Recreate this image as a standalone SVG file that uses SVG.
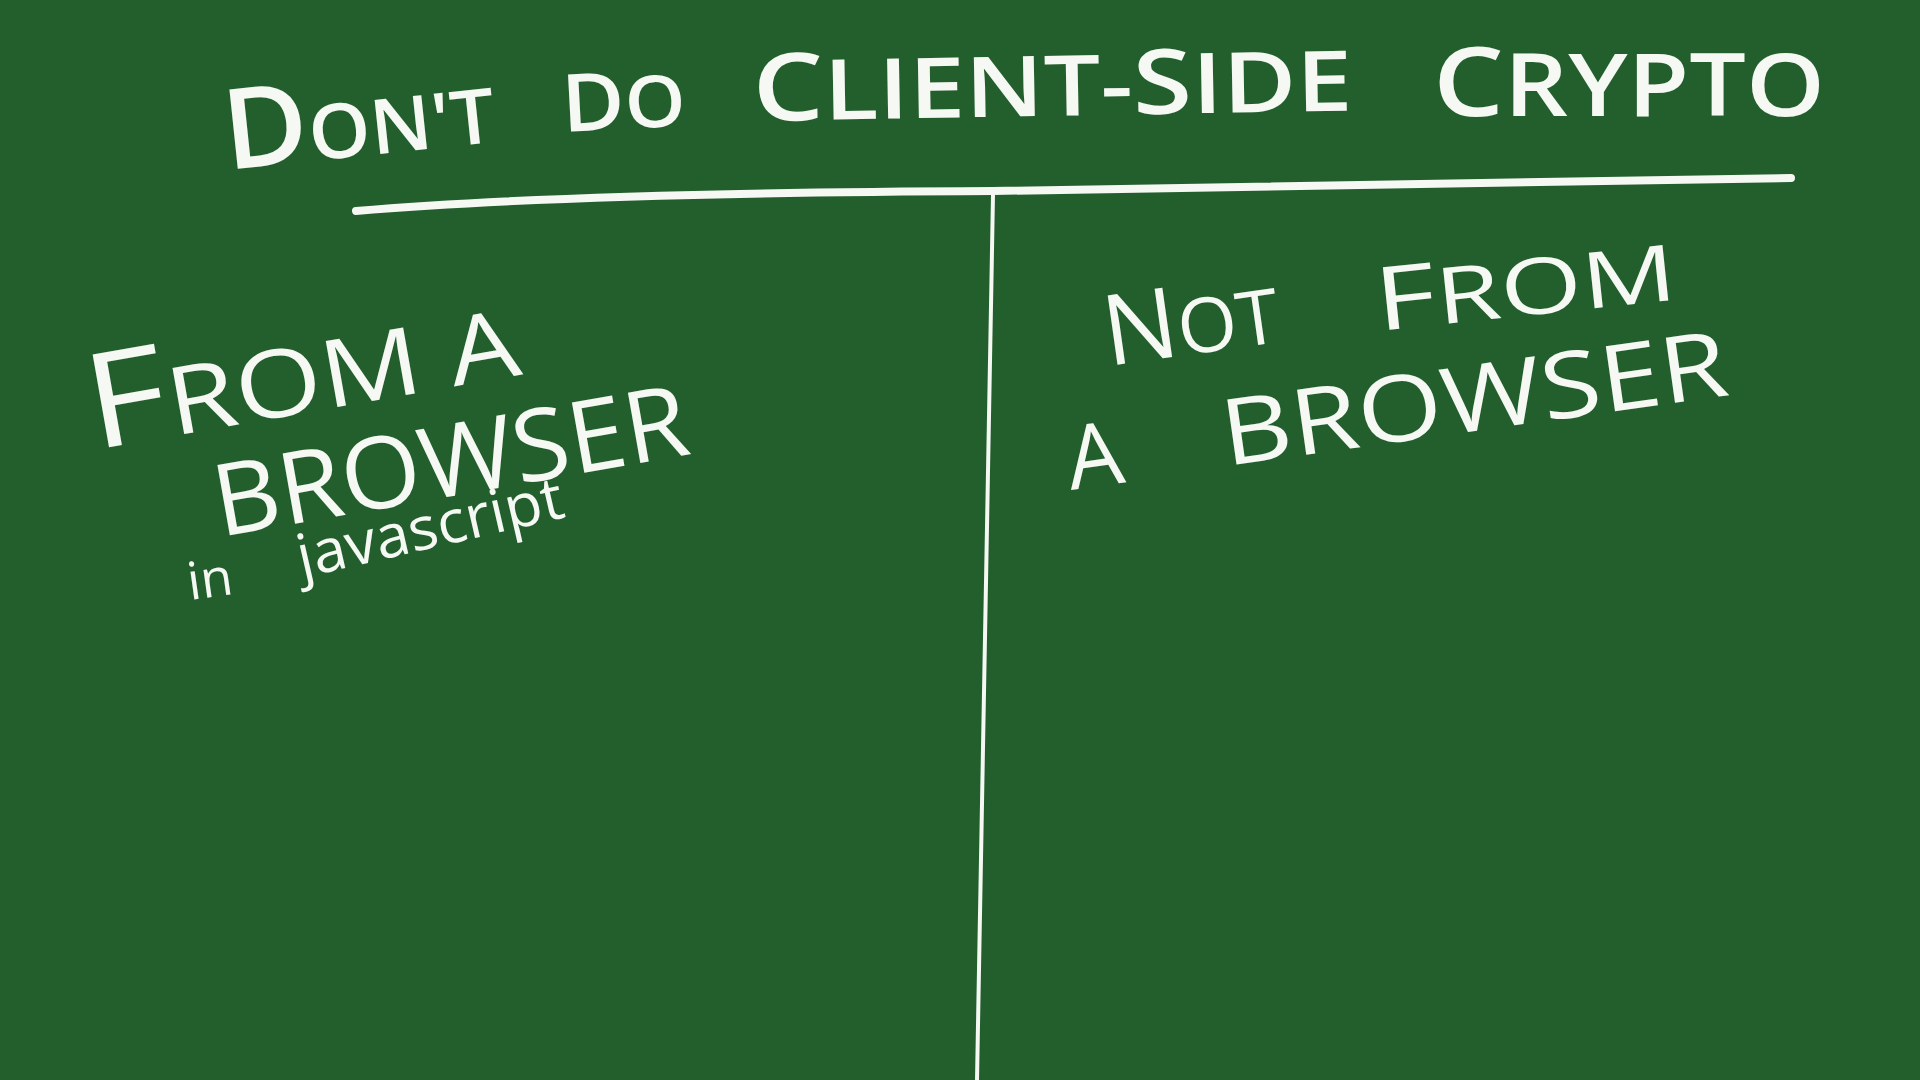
<svg xmlns="http://www.w3.org/2000/svg" width="1920" height="1080" viewBox="0 0 1920 1080">
  <style>
    .chalk { fill: #f5f8f3; font-family: "Open Sans", "Liberation Sans", sans-serif; }
    .title { font-weight: 600; }
    .line { fill: none; stroke: #f5f8f3; stroke-linecap: round; }
  </style>
  <rect x="0" y="0" width="1920" height="1080" fill="#235f2d"/>

  <g id="title" class="chalk title">
    <text x="227" y="170" textLength="272" lengthAdjust="spacingAndGlyphs" transform="rotate(-6 227 170)"><tspan font-size="112">D</tspan><tspan font-size="76">ON'T</tspan></text>
    <text x="563" y="132" textLength="124" lengthAdjust="spacingAndGlyphs" transform="rotate(-3 563 132)"><tspan font-size="80">D</tspan><tspan font-size="72">O</tspan></text>
    <text x="753" y="121" textLength="600" lengthAdjust="spacingAndGlyphs" transform="rotate(-1 753 121)"><tspan font-size="94">C</tspan><tspan font-size="84">LIENT-</tspan><tspan font-size="90">S</tspan><tspan font-size="84">IDE</tspan></text>
    <text x="1433" y="116" textLength="392" lengthAdjust="spacingAndGlyphs"><tspan font-size="96">C</tspan><tspan font-size="86">RYPTO</tspan></text>
  </g>

  <g id="rules">
    <path class="line" stroke-width="8" d="M356 211 C 520 197, 760 192, 993 191 L 1791 178"/>
    <path class="line" stroke-width="4" d="M993 195 C 990 400, 985 700, 977 1080"/>
  </g>

  <g id="left-column" class="chalk">
    <text x="94" y="450" textLength="436" lengthAdjust="spacingAndGlyphs" transform="rotate(-10 94 450)"><tspan font-size="132">F</tspan><tspan font-size="94">ROM A</tspan></text>
    <text x="220" y="537" font-size="100" textLength="480" lengthAdjust="spacingAndGlyphs" transform="rotate(-10 220 537)">BROWSER</text>
    <text x="190" y="600" font-size="52" transform="rotate(-8 190 600)">in</text>
    <text x="302" y="578" font-size="60" textLength="272" lengthAdjust="spacingAndGlyphs" transform="rotate(-13 302 578)">javascript</text>
  </g>

  <g id="right-column" class="chalk">
    <text x="1108" y="366" textLength="176" lengthAdjust="spacingAndGlyphs" transform="rotate(-8 1108 366)"><tspan font-size="98">N</tspan><tspan font-size="76">OT</tspan></text>
    <text x="1378" y="331" textLength="302" lengthAdjust="spacingAndGlyphs" transform="rotate(-6 1378 331)"><tspan font-size="88">F</tspan><tspan font-size="78">ROM</tspan></text>
    <text x="1071" y="490" font-size="88" textLength="56" lengthAdjust="spacingAndGlyphs" transform="rotate(-8 1071 490)">A</text>
    <text x="1226" y="466" font-size="92" textLength="510" lengthAdjust="spacingAndGlyphs" transform="rotate(-8 1226 466)">BROWSER</text>
  </g>
</svg>
